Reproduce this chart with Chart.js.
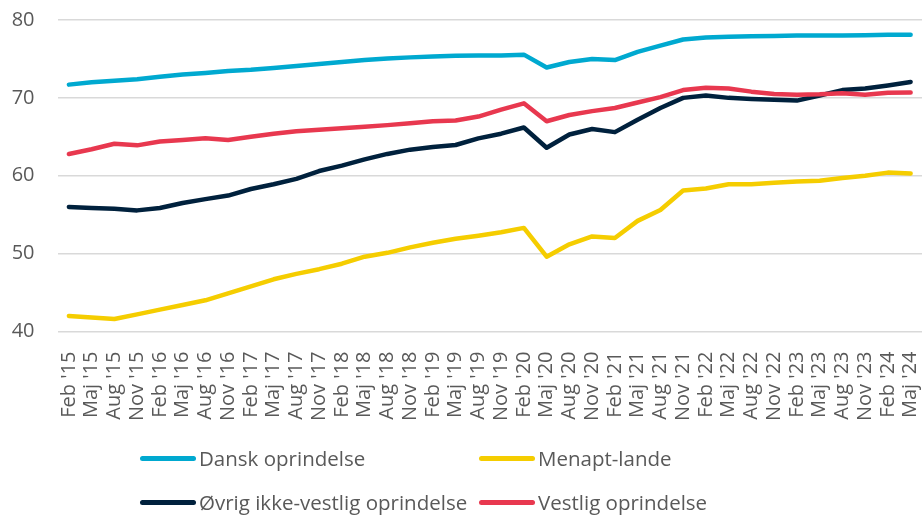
<!DOCTYPE html>
<html lang="da">
<head>
    <meta charset="UTF-8">
    <title>Beskæftigelse efter oprindelse</title>
    <script src="https://cdn.jsdelivr.net/npm/chart.js"></script>
    <style>
        body { margin: 0; background: #fff; }
        #wrap { position: relative; width: 922px; height: 516px; }
        #legend { position: absolute; left: 0; top: 0; width: 922px; height: 516px; pointer-events: none;
                  font-family: "Open Sans", sans-serif; font-size: 20.5px; color: #595959; }
        .item { position: absolute; display: flex; align-items: center; white-space: nowrap; }
        .swatch { display: inline-block; width: 56px; height: 5px; border-radius: 3px; margin-right: 3px; }
    </style>
</head>
<body>
<div id="wrap">
    <canvas id="lineChart" width="922" height="516"></canvas>
    <div id="legend"></div>
</div>
<script>
    // kvartaler
    var labels = ["Feb '15", "Maj '15", "Aug '15", "Nov '15", "Feb '16", "Maj '16", "Aug '16", "Nov '16",
        "Feb '17", "Maj '17", "Aug '17", "Nov '17", "Feb '18", "Maj '18", "Aug '18", "Nov '18",
        "Feb '19", "Maj '19", "Aug '19", "Nov '19", "Feb '20", "Maj '20", "Aug '20", "Nov '20",
        "Feb '21", "Maj '21", "Aug '21", "Nov '21", "Feb '22", "Maj '22", "Aug '22", "Nov '22",
        "Feb '23", "Maj '23", "Aug '23", "Nov '23", "Feb '24", "Maj '24"];

    var dansk = [71.7, 72.0, 72.2, 72.4, 72.7, 73.0, 73.2, 73.45, 73.6, 73.85, 74.1, 74.35, 74.6, 74.85,
        75.05, 75.2, 75.3, 75.4, 75.45, 75.45, 75.55, 73.9, 74.6, 75.0, 74.85, 75.9, 76.7, 77.5,
        77.75, 77.85, 77.9, 77.95, 78.0, 78.0, 78.0, 78.05, 78.1, 78.1];

    var menapt = [42.0, 41.8, 41.6, 42.2, 42.8, 43.4, 44.0, 44.9, 45.8, 46.7, 47.4, 48.0, 48.7, 49.6,
        50.1, 50.8, 51.4, 51.9, 52.3, 52.75, 53.3, 49.6, 51.2, 52.2, 52.0, 54.2, 55.6, 58.1,
        58.35, 58.9, 58.9, 59.1, 59.25, 59.35, 59.7, 60.0, 60.4, 60.3];

    var oevrig = [56.0, 55.85, 55.75, 55.55, 55.85, 56.5, 57.0, 57.45, 58.3, 58.9, 59.6, 60.6, 61.3, 62.1,
        62.8, 63.35, 63.7, 63.95, 64.8, 65.4, 66.2, 63.6, 65.3, 66.0, 65.6, 67.2, 68.7, 70.0,
        70.3, 70.0, 69.85, 69.75, 69.65, 70.3, 71.0, 71.2, 71.6, 72.05];

    var vestlig = [62.8, 63.4, 64.1, 63.9, 64.4, 64.6, 64.8, 64.6, 65.0, 65.4, 65.7, 65.9, 66.1, 66.3,
        66.5, 66.75, 67.0, 67.1, 67.6, 68.5, 69.3, 67.0, 67.8, 68.3, 68.7, 69.4, 70.1, 71.0,
        71.3, 71.2, 70.8, 70.5, 70.4, 70.45, 70.6, 70.4, 70.65, 70.7];

    var seriesNames = ['Dansk oprindelse', 'Menapt-lande', 'Øvrig ikke-vestlig oprindelse', 'Vestlig oprindelse'];
    var seriesColors = ['#00a9d0', '#f5cd00', '#00213d', '#e8384f'];
    var yTicks = [40, 50, 60, 70, 80];

    var allData = [dansk, menapt, oevrig, vestlig];
    var datasets = [];
    for (var i = 0; i < allData.length; i++) {
        datasets.push({
            label: seriesNames[i],
            data: allData[i],
            borderColor: seriesColors[i],
            backgroundColor: seriesColors[i],
            borderWidth: 4.5,
            pointRadius: 0,
            tension: 0,
            borderCapStyle: 'round',
            borderJoinStyle: 'round',
            order: allData.length - i
        });
    }

    var ctx = document.getElementById('lineChart').getContext('2d');
    var chart = new Chart(ctx, {
        type: 'line',
        data: { labels: labels, datasets: datasets },
        options: {
            responsive: false,
            animation: false,
            layout: { padding: { left: 10, top: 20, right: 0, bottom: 83 } },
            plugins: { legend: { display: false }, tooltip: { enabled: false } },
            scales: {
                x: {
                    offset: true,
                    grid: { display: false },
                    border: { display: false },
                    // ingen ekstra luft til de drejede etiketter i siderne
                    afterFit: function (scale) {
                        scale.paddingLeft = 0;
                        scale.paddingRight = 0;
                    },
                    ticks: {
                        autoSkip: false,
                        minRotation: 90,
                        maxRotation: 90,
                        padding: 12,
                        color: '#595959',
                        font: { family: 'Open Sans', size: 20 }
                    }
                },
                y: {
                    min: 40,
                    max: 80,
                    afterBuildTicks: function (axis) {
                        axis.ticks = yTicks.map(function (v) { return { value: v }; });
                    },
                    afterFit: function (scale) {
                        scale.width = 47.5;
                        scale.paddingTop = 0;
                        scale.paddingBottom = 0;
                    },
                    grid: { color: '#d9d9d9', lineWidth: 1.5, drawTicks: false },
                    border: { display: false },
                    ticks: {
                        padding: 23,
                        color: '#595959',
                        font: { family: 'Open Sans', size: 20 }
                    }
                }
            }
        }
    });

    // legend i to kolonner som i originalen
    var legendPos = [[140, 458], [479, 458], [140, 502], [479, 502]];
    var legend = document.getElementById('legend');
    for (var j = 0; j < seriesNames.length; j++) {
        var item = document.createElement('div');
        item.className = 'item';
        item.style.left = legendPos[j][0] + 'px';
        item.style.top = (legendPos[j][1] - 15) + 'px';
        item.style.height = '30px';
        item.innerHTML = '<span class="swatch" style="background:' + seriesColors[j] + '"></span>' + seriesNames[j];
        legend.appendChild(item);
    }
</script>
</body>
</html>
